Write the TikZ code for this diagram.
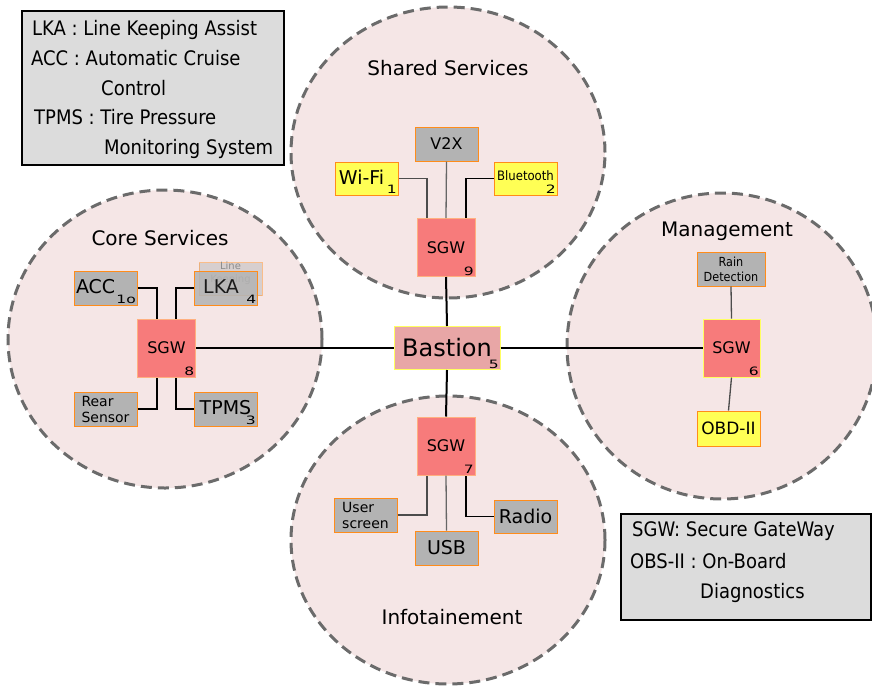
\documentclass[tikz,border=0pt]{standalone}
\usepackage{fontspec}
\setmainfont{DejaVu Sans}
\newfontfamily\condfont{DejaVu Sans Condensed}
\usetikzlibrary{shapes.geometric}
\definecolor{zonefill}{HTML}{F5E6E6}
\definecolor{zoneline}{HTML}{6B6B6B}
\definecolor{boxgray}{HTML}{B3B3B3}
\definecolor{boxorange}{HTML}{FF8C1A}
\definecolor{boxyellow}{HTML}{FFFF55}
\definecolor{gwred}{HTML}{F77B7B}
\definecolor{gwborder}{HTML}{FFB080}
\definecolor{bastfill}{HTML}{E8A6A6}
\definecolor{bastborder}{HTML}{FFFF60}
\definecolor{legfill}{HTML}{DCDCDC}
\newcommand{\idx}[1]{\scalebox{1.35}[1]{\fontsize{11.5}{11.5}\selectfont #1}}
\tikzset{
  zone/.style={ellipse, draw=zoneline, fill=zonefill, line width=3pt, dash pattern=on 11pt off 6pt, inner sep=0pt, minimum width=314pt},
  zonetitle/.style={font=\fontsize{20}{22}\selectfont},
  dev/.style={draw=boxorange, line width=1pt, minimum width=63pt, minimum height=34pt, inner sep=1pt, align=center},
  gbox/.style={dev, fill=boxgray},
  ybox/.style={dev, fill=boxyellow},
  sgw/.style={draw=gwborder, line width=1pt, fill=gwred, minimum width=58pt, minimum height=58pt, inner sep=0pt, font=\fontsize{16}{16}\selectfont},
  num/.style={anchor=south east, inner sep=1.5pt},
  link/.style={draw=black, line width=1.3pt},
  trunk/.style={draw=black, line width=2pt},
  legend/.style={draw=black, line width=2pt, fill=legfill, anchor=north west, inner sep=0pt},
  legtext/.style={anchor=base west, inner sep=0pt, font=\condfont\fontsize{20}{20}\selectfont}
}
\begin{document}
\begin{tikzpicture}[x=1pt,y=-1pt]
\useasboundingbox (0,0) rectangle (872,686);
\begin{scope}
\clip (0,0) rectangle (872,686);
% service zones
\node[zone, minimum height=291pt] (zshared) at (448,152.5) {};
\node[zone, minimum height=298pt] (zcore) at (165,339) {};
\node[zone, minimum width=310pt, minimum height=306pt] (zmgmt) at (722,346) {};
\node[zone, minimum height=288pt] (zinfo) at (448,540) {};
\end{scope}
\node[zonetitle] (tshared) at (448,68) {Shared Services};
\node[zonetitle] (tcore) at (160,238) {Core Services};
\node[zonetitle] (tmgmt) at (727,231) {Management};
\node[zonetitle] (tinfo) at (452,617) {Infotainement};

% central bastion and gateways
\node[draw=bastborder, line width=1pt, fill=bastfill, minimum width=106pt, minimum height=43pt, font=\fontsize{24}{24}\selectfont] (bastion) at (447,348) {\raisebox{2pt}{Bastion}};
\node[num] at (bastion.south east) {\idx{5}};
\node[sgw] (sgw9) at (446,247.5) {SGW};
\node[num] at (sgw9.south east) {\idx{9}};
\node[sgw] (sgw8) at (166.5,348) {SGW};
\node[num] at (sgw8.south east) {\idx{8}};
\node[sgw, draw=bastborder, minimum width=57pt] (sgw6) at (731.5,348) {SGW};
\node[num] at (sgw6.south east) {\idx{6}};
\node[sgw] (sgw7) at (446,446) {SGW};
\node[num] at (sgw7.south east) {\idx{7}};

% shared services devices
\node[gbox, font=\fontsize{16}{16}\selectfont] (v2x) at (446.5,144) {V2X};
\node[ybox, minimum height=33pt, font=\fontsize{19}{19}\selectfont] (wifi) at (366.5,178.5) {\raisebox{3pt}{Wi-Fi}\phantom{\idx{1}}};
\node[num] at (wifi.south east) {\idx{1}};
\node[ybox, minimum height=33pt, font=\condfont\fontsize{13}{13}\selectfont] (bt) at (525.5,178.5) {\raisebox{5pt}{Bluetooth}};
\node[num] at (bt.south east) {\idx{2}};

% core services devices
\node[gbox, font=\fontsize{19}{19}\selectfont] (acc) at (105.5,288) {\raisebox{2pt}{ACC}\phantom{\idx{10}}};
\node[num] at (acc.south east) {\idx{1o}};
% half-hidden duplicate card behind LKA
\node[gbox, opacity=0.45, minimum height=33pt, anchor=north] (lkaghost) at (230.5,262) {};
\node[anchor=north, inner sep=0pt, text=black!45, font=\fontsize{10}{13}\selectfont, align=center] (lkaghosttext) at (lkaghost.north) {Line\\Keeping};
\node[gbox, fill opacity=0.85, font=\fontsize{19}{19}\selectfont] (lka) at (226,288) {\raisebox{2pt}{LKA}\phantom{\idx{4}}};
\node[num] at (lka.south east) {\idx{4}};
\node[gbox, font=\fontsize{14}{16}\selectfont, align=left] (rear) at (105.5,409) {Rear\\Sensor};
\node[gbox, font=\fontsize{19}{19}\selectfont] (tpms) at (225.5,409) {\raisebox{3pt}{TPMS}};
\node[num] at (tpms.south east) {\idx{3}};

% management devices
\node[gbox, minimum width=68pt, font=\condfont\fontsize{12.5}{15}\selectfont] (rain) at (731,269) {Rain\\Detection};
\node[ybox, minimum height=35pt, font=\fontsize{17}{17}\selectfont] (obd) at (728.5,428.5) {OBD-II};

% infotainment devices
\node[gbox, font=\fontsize{14}{16}\selectfont, align=left] (user) at (365.5,515) {User\\screen};
\node[gbox, font=\fontsize{19}{19}\selectfont] (usb) at (446.5,548) {USB};
\node[gbox, minimum height=33pt, font=\fontsize{19}{19}\selectfont] (radio) at (525.5,516.5) {Radio};

% backbone
\draw[trunk] (bastion.north) -- (sgw9.south);
\draw[trunk] (bastion.west) -- (sgw8.east);
\draw[trunk] (bastion.east) -- (sgw6.west);
\draw[trunk] (bastion.south) -- (sgw7.north);

% device links
\draw[link, draw=black!70] (wifi.east) -| ([xshift=-19pt]sgw9.north);
\draw[link, draw=black!60] (v2x.south) -- (sgw9.north);
\draw[link] (bt.west) -| ([xshift=20pt]sgw9.north);
\draw[link] (acc.east) -| ([xshift=-9.5pt]sgw8.north);
\draw[link] (lka.west) -| ([xshift=9.5pt]sgw8.north);
\draw[link] (rear.east) -| ([xshift=-9.5pt]sgw8.south);
\draw[link] (tpms.west) -| ([xshift=9.5pt]sgw8.south);
\draw[link, draw=black!70] (rain.south) -- (sgw6.north);
\draw[link, draw=black!70] (obd.north) -- (sgw6.south);
\draw[link, draw=black!70] (user.east) -| ([xshift=-19pt]sgw7.south);
\draw[link, draw=black!60] (usb.north) -- (sgw7.south);
\draw[link] (radio.west) -| ([xshift=20pt]sgw7.south);

% abbreviation legends
\node[legend, minimum width=262pt, minimum height=154pt] (leg1) at (21,10) {};
\node[legtext] (l1a) at (32,35) {LKA : Line Keeping Assist};
\node[legtext] (l1b) at (31,65) {ACC : Automatic Cruise};
\node[legtext] (l1c) at (101,95) {Control};
\node[legtext] (l1d) at (34,124) {TPMS : Tire Pressure};
\node[legtext] (l1e) at (104,154) {Monitoring System};

\node[legend, minimum width=250pt, minimum height=106pt] (leg2) at (620,513) {};
\node[legtext] (l2a) at (632,536) {SGW: Secure GateWay};
\node[legtext] (l2b) at (630,568) {OBS-II : On-Board};
\node[legtext] (l2c) at (700,598) {Diagnostics};
\end{tikzpicture}
\end{document}
